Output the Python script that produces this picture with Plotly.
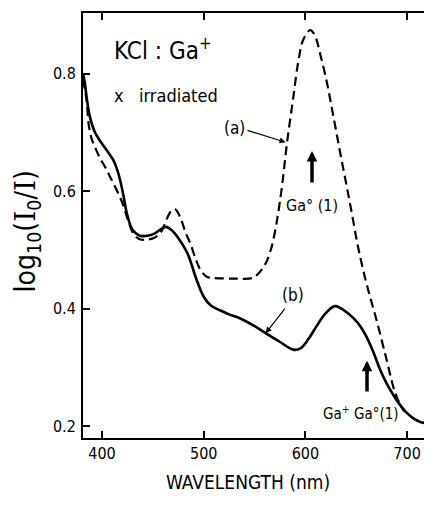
import plotly.graph_objects as go

# Curve (b): solid
wl_b = [381.3, 383, 385, 388, 393, 399, 406, 411, 415, 418, 421, 425, 430, 437, 445, 452, 458, 463,
        468, 475, 484, 493, 500, 507, 516, 525, 536, 550, 562, 575, 588, 595, 603, 611, 620, 629,
        638, 647, 654, 660, 667, 673, 680, 686, 693, 700, 707, 713, 724.5]
od_b = [0.80, 0.785, 0.758, 0.727, 0.700, 0.683, 0.666, 0.653, 0.636, 0.617, 0.593, 0.558, 0.534,
        0.524, 0.524, 0.528, 0.535, 0.539, 0.534, 0.52, 0.494, 0.449, 0.42, 0.405, 0.397, 0.39,
        0.383, 0.37, 0.357, 0.343, 0.330, 0.332, 0.348, 0.370, 0.392, 0.404, 0.397, 0.384, 0.37,
        0.352, 0.325, 0.298, 0.272, 0.254, 0.236, 0.222, 0.212, 0.207, 0.203]

# Curve (a): dashed
wl_a = [381.3, 384.7, 387, 390, 393, 398, 403, 408, 414, 420, 425, 431, 437, 444, 452, 458, 463, 468,
        472, 477, 482, 487, 492, 497, 503, 510, 530, 548, 554, 561, 566, 570, 573, 577, 582, 588,
        593, 598, 605, 610, 614, 621, 626, 631, 636, 641, 646, 652, 660, 670, 680, 688, 696, 700,
        707, 713, 724.5]
od_a = [0.79, 0.755, 0.712, 0.688, 0.675, 0.656, 0.641, 0.624, 0.603, 0.580, 0.553, 0.527, 0.518,
        0.517, 0.521, 0.53, 0.55, 0.566, 0.569, 0.555, 0.53, 0.51, 0.485, 0.465, 0.454, 0.452,
        0.451, 0.452, 0.46, 0.477, 0.50, 0.53, 0.56, 0.608, 0.683, 0.758, 0.82, 0.858, 0.874,
        0.862, 0.837, 0.786, 0.741, 0.695, 0.649, 0.605, 0.559, 0.503, 0.443, 0.38, 0.312, 0.258,
        0.228, 0.222, 0.212, 0.207, 0.203]

x_ticks = [400, 500, 600, 700]
x_ticklabels = ["400", "500", "600", "700"]
y_ticks = [0.2, 0.4, 0.6, 0.8]
y_ticklabels = ["0.2", "0.4", "0.6", "0.8"]

FONT = "DejaVu Sans Condensed, DejaVu Sans, sans-serif"
SERIF_I = "<span style='font-family:DejaVu Serif'>I</span>"

fig = go.Figure()
fig.add_trace(go.Scatter(x=wl_a, y=od_a, mode="lines", line_shape="spline",
                         line=dict(color="black", width=2.2, dash="9px,5px"), showlegend=False))
fig.add_trace(go.Scatter(x=wl_b, y=od_b, mode="lines", line_shape="spline",
                         line=dict(color="black", width=2.6), showlegend=False))

annotations = [
    dict(x=409.8, y=0.842, xref="x", yref="y", text="KCl : Ga<sup>+</sup>", showarrow=False,
         xanchor="left", yanchor="middle", font=dict(size=24)),
    dict(x=409.8, y=0.763, xref="x", yref="y", text="x   irradiated", showarrow=False,
         xanchor="left", yanchor="middle", font=dict(size=18)),
    dict(x=529.8, y=0.707, xref="x", yref="y", text="(a)", showarrow=False, font=dict(size=17)),
    dict(x=580.5, y=0.683, ax=541.6, ay=0.704, xref="x", yref="y", axref="x", ayref="y",
         text="", showarrow=True, arrowhead=2, arrowsize=1, arrowwidth=1.2, arrowcolor="black"),
    dict(x=606.5, y=0.668, ax=606.5, ay=0.612, xref="x", yref="y", axref="x", ayref="y",
         text="", showarrow=True, arrowhead=2, arrowsize=0.6, arrowwidth=3.5, arrowcolor="black"),
    dict(x=606.5, y=0.576, xref="x", yref="y", text="Ga° (1)", showarrow=False, font=dict(size=16)),
    dict(x=587.8, y=0.423, xref="x", yref="y", text="(b)", showarrow=False, font=dict(size=17)),
    dict(x=561, y=0.358, ax=581, ay=0.4025, xref="x", yref="y", axref="x", ayref="y",
         text="", showarrow=True, arrowhead=2, arrowsize=1, arrowwidth=1.2, arrowcolor="black"),
    dict(x=660.6, y=0.311, ax=660.6, ay=0.256, xref="x", yref="y", axref="x", ayref="y",
         text="", showarrow=True, arrowhead=2, arrowsize=0.6, arrowwidth=3.5, arrowcolor="black"),
    dict(x=654.7, y=0.222, xref="x", yref="y", text="Ga<sup>+</sup> Ga°(1)", showarrow=False,
         font=dict(size=15)),
    dict(x=-0.100, y=0.485, xref="paper", yref="paper", xanchor="right",
         text="log<sub>10</sub>(" + SERIF_I + "<sub>0</sub>/" + SERIF_I + ")",
         textangle=-90, showarrow=False, font=dict(size=28)),
    dict(x=0.473, y=-0.134, xref="paper", yref="paper", text="WAVELENGTH (nm)",
         showarrow=False, font=dict(size=19)),
]

fig.update_layout(
    width=424, height=497,
    margin=dict(l=75, r=0, t=5, b=67),
    paper_bgcolor="white", plot_bgcolor="white",
    font=dict(family=FONT, color="black", size=16),
    annotations=annotations,
    xaxis=dict(range=[381.3, 724.5], tickvals=x_ticks, ticktext=x_ticklabels,
               ticks="inside", ticklen=7, tickwidth=1.6, tickcolor="black",
               showline=True, linecolor="black", linewidth=2, mirror="ticks",
               showgrid=False, zeroline=False, tickfont=dict(size=16)),
    yaxis=dict(range=[0.1796, 0.903], tickvals=y_ticks, ticktext=y_ticklabels,
               ticks="inside", ticklen=7, tickwidth=1.6, tickcolor="black",
               showline=True, linecolor="black", linewidth=2, mirror=False,
               showgrid=False, zeroline=False, tickfont=dict(size=16), ticklabelstandoff=2),
)

fig.write_html("out.html")
